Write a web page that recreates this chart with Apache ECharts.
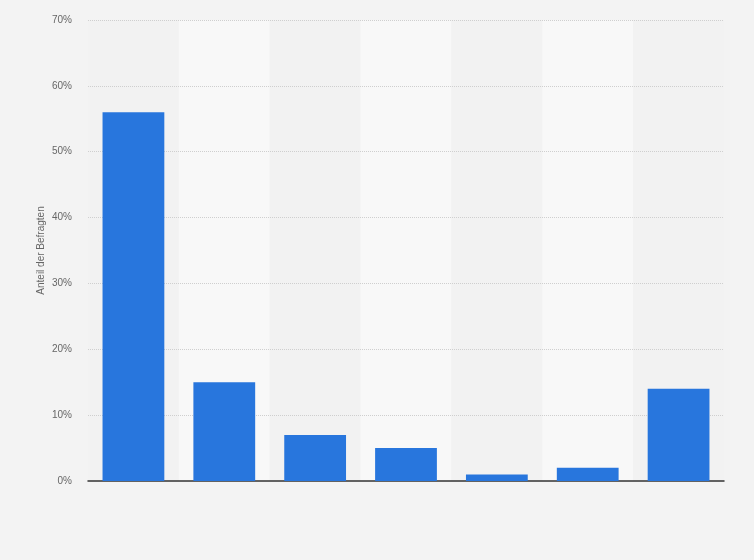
<!DOCTYPE html>
<html>
<head>
<meta charset="utf-8">
<script src="https://cdn.jsdelivr.net/npm/echarts@6/dist/echarts.min.js"></script>
<style>
  html, body { margin: 0; padding: 0; background: #f3f3f3; }
  #chart { width: 754px; height: 560px; }
</style>
</head>
<body>
<div id="chart"></div>
<script>
// Werte (Kategorienamen sind im Bild nicht beschriftet)
var categories = ['1', '2', '3', '4', '5', '6', '7'];
var shares = [56, 15, 7, 5, 1, 2, 14];
var yTicks = [0, 10, 20, 30, 40, 50, 60, 70];

var myChart = echarts.init(document.getElementById('chart'));

var option = {
    backgroundColor: '#f3f3f3',
    grid: {
        left: 88,
        right: 30,
        top: 20,
        bottom: 79
    },
    xAxis: {
        type: 'category',
        data: categories,
        z: 0,
        axisTick: { show: false },
        axisLabel: { show: false },
        axisLine: { lineStyle: { color: '#333', width: 1.5 } },
        splitArea: {
            show: true,
            areaStyle: { color: ['#f2f2f2', '#f8f8f8'] }
        }
    },
    yAxis: {
        type: 'value',
        z: 1,
        min: yTicks[0],
        max: yTicks[yTicks.length - 1],
        interval: 10,
        name: 'Anteil der Befragten',
        nameLocation: 'middle',
        nameGap: 42,
        nameMoveOverlap: false,
        nameTextStyle: { color: '#666', fontSize: 10, fontFamily: 'Arial, Liberation Sans' },
        axisLine: { show: false },
        axisTick: { show: false },
        axisLabel: {
            color: '#666',
            fontSize: 10,
            fontFamily: 'Arial, Liberation Sans',
            margin: 16,
            formatter: '{value}%'
        },
        splitLine: {
            showMinLine: false,
            lineStyle: { color: '#cfcfcf', type: 'dotted' }
        }
    },
    series: [{
        type: 'bar',
        data: shares,
        barWidth: '68%',
        itemStyle: { color: '#2876dd' }
    }]
};

myChart.setOption(option, true);
</script>
</body>
</html>
